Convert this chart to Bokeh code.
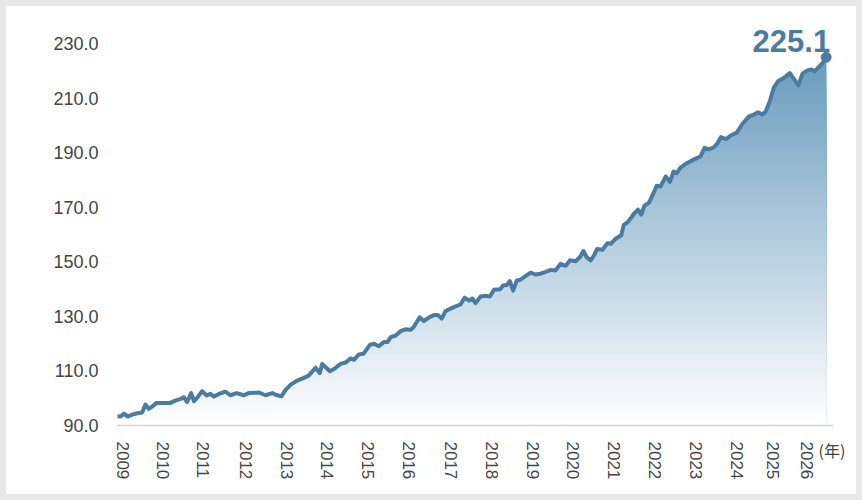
import numpy as np
from bokeh.plotting import figure
from bokeh.models import Range1d, FixedTicker, Label, PrintfTickFormatter, Column
from bokeh.embed import file_html
from bokeh.resources import INLINE

# ---- data (decimal year, index value) ----
YEARS = [
    2008.86, 2008.94, 2009.02, 2009.12, 2009.23, 2009.35, 2009.47, 2009.55, 2009.63, 2009.72,
    2009.82, 2010.16, 2010.29, 2010.41, 2010.49, 2010.57, 2010.67, 2010.74, 2010.83, 2010.94,
    2011.05, 2011.14, 2011.23, 2011.35, 2011.51, 2011.63, 2011.78, 2011.96, 2012.08, 2012.33,
    2012.49, 2012.66, 2012.74, 2012.88, 2012.98, 2013.11, 2013.27, 2013.43, 2013.55, 2013.72,
    2013.82, 2013.88, 2014.07, 2014.18, 2014.33, 2014.45, 2014.58, 2014.66, 2014.78, 2014.89,
    2015.05, 2015.15, 2015.27, 2015.39, 2015.48, 2015.56, 2015.68, 2015.80, 2015.92, 2016.05,
    2016.13, 2016.27, 2016.37, 2016.50, 2016.62, 2016.72, 2016.81, 2016.90, 2017.03, 2017.15,
    2017.27, 2017.37, 2017.48, 2017.56, 2017.64, 2017.76, 2017.89, 2017.99, 2018.09, 2018.24,
    2018.32, 2018.40, 2018.48, 2018.56, 2018.65, 2018.74, 2018.87, 2018.99, 2019.11, 2019.23,
    2019.36, 2019.48, 2019.60, 2019.72, 2019.85, 2019.95, 2020.09, 2020.20, 2020.28, 2020.36,
    2020.46, 2020.54, 2020.62, 2020.75, 2020.87, 2020.95, 2021.07, 2021.21, 2021.27, 2021.36,
    2021.44, 2021.52, 2021.62, 2021.70, 2021.78, 2021.89, 2021.99, 2022.08, 2022.17, 2022.30,
    2022.40, 2022.49, 2022.57, 2022.66, 2022.79, 2022.91, 2023.06, 2023.15, 2023.25, 2023.36,
    2023.48, 2023.56, 2023.65, 2023.78, 2023.89, 2024.04, 2024.18, 2024.34, 2024.46, 2024.56,
    2024.67, 2024.75, 2024.85, 2024.95, 2025.05, 2025.16, 2025.24, 2025.34, 2025.44, 2025.55,
    2025.65, 2025.77, 2025.87, 2025.95, 2026.05, 2026.14, 2026.23,
]
VALUES = [
    93.4, 93.3, 94.3, 93.3, 94.0, 94.5, 94.8, 97.7, 96.1, 97.0,
    98.3, 98.3, 99.2, 99.7, 100.4, 98.6, 101.9, 98.9, 100.4, 102.6,
    101.0, 101.6, 100.6, 101.6, 102.4, 101.1, 101.9, 101.1, 101.9, 102.1,
    101.1, 101.9, 101.3, 100.7, 103.0, 105.0, 106.5, 107.5, 108.3, 111.2,
    109.2, 112.6, 109.9, 110.8, 112.6, 113.1, 114.6, 114.1, 116.1, 116.3,
    119.6, 120.0, 119.1, 120.6, 120.6, 122.4, 123.0, 124.6, 125.3, 125.1,
    126.3, 129.7, 128.3, 129.7, 130.5, 130.5, 129.2, 131.9, 132.9, 133.7,
    134.4, 136.9, 135.8, 136.6, 134.9, 137.3, 137.6, 137.3, 139.8, 140.0,
    141.5, 141.5, 143.0, 139.5, 143.2, 143.5, 144.9, 146.1, 145.4, 145.7,
    146.4, 147.1, 146.9, 149.3, 148.6, 150.6, 150.3, 151.8, 154.0, 151.8,
    150.6, 152.3, 154.8, 154.5, 156.9, 156.7, 158.5, 159.8, 163.6, 164.5,
    166.0, 167.7, 169.2, 167.4, 170.7, 171.8, 175.0, 178.0, 177.7, 181.4,
    179.4, 183.2, 182.6, 184.6, 186.0, 187.0, 188.1, 188.7, 191.9, 191.3,
    192.1, 193.4, 195.8, 195.1, 196.4, 197.5, 200.7, 203.4, 204.1, 204.9,
    204.1, 205.3, 209.0, 214.1, 216.3, 217.2, 218.1, 219.3, 217.2, 214.8,
    219.1, 220.3, 220.6, 220.0, 221.5, 223.0, 225.1,
]
TICK_LABELS = ["2009", "2010", "2011", "2012", "2013", "2014", "2015", "2016", "2017",
               "2018", "2019", "2020", "2021", "2022", "2023", "2024", "2025", "2026"]
TICK_POS = [2009.0, 2009.98, 2010.97, 2012.01, 2013.01, 2014.0, 2015.0, 2016.0, 2017.03,
            2018.05, 2019.04, 2020.03, 2021.03, 2022.04, 2023.04, 2024.04, 2024.93, 2025.75]
Y_TICKS = [90, 110, 130, 150, 170, 190, 210, 230]
UNIT_LABEL = "(年)"

LINE_COLOR = "#4a7ca2"
TEXT_COLOR = "#444444"
TOP_RGB = np.array([0x6a, 0x9c, 0xbd], dtype=float)
WHITE = np.array([255.0, 255.0, 255.0])

x = np.array(YEARS)
y = np.array(VALUES)
base = 90.0

p = figure(width=850, height=488,
           x_range=Range1d(2008.865, 2026.41), y_range=Range1d(base, 238.6),
           output_backend="svg", toolbar_location=None,
           min_border_left=111, min_border_right=23, min_border_top=14, min_border_bottom=69,
           background_fill_color="white", border_fill_color="white", outline_line_color=None,
           styles={"background-color": "white"})
p.grid.visible = False

# gradient fill under the line, built from stacked bands
top_val = 224.0
levels = np.arange(base + 2.0, y.max() + 4.0, 2.0)[::-1]
for b in levels:
    t = np.clip((b - 1.0 - base) / (top_val - base), 0.0, 1.0)
    rgb = WHITE * (1 - t) + TOP_RGB * t
    col = "#%02x%02x%02x" % tuple(int(round(c)) for c in rgb)
    p.varea(x=x, y1=np.full_like(y, base), y2=np.minimum(y, b), fill_color=col, fill_alpha=1.0)

p.line(x, y, line_color=LINE_COLOR, line_width=4, line_join="round", line_cap="round")
p.scatter([x[-1]], [y[-1]], size=10, fill_color=LINE_COLOR, line_color=LINE_COLOR)

p.add_layout(Label(x=x[-1], y=y[-1], text=f"{VALUES[-1]:.1f}", text_align="right",
                   text_baseline="bottom", x_offset=4, y_offset=5,
                   text_font="Liberation Sans", text_font_size="31px",
                   text_font_style="bold", text_color=LINE_COLOR))

# x axis
xa = p.xaxis[0]
xa.ticker = FixedTicker(ticks=TICK_POS)
xa.major_label_overrides = {pos: lab for pos, lab in zip(TICK_POS, TICK_LABELS)}
xa.major_label_orientation = "vertical"
xa.major_tick_line_color = None
xa.minor_tick_line_color = None
xa.major_tick_out = 0
xa.major_label_standoff = 16
xa.axis_line_color = "#d6d6d6"
xa.axis_line_width = 1.5
xa.major_label_text_font = "Liberation Sans"
xa.major_label_text_font_size = "17px"
xa.major_label_text_color = TEXT_COLOR

# y axis
ya = p.yaxis[0]
ya.ticker = FixedTicker(ticks=Y_TICKS)
ya.formatter = PrintfTickFormatter(format="%.1f")
ya.axis_line_color = None
ya.major_tick_line_color = None
ya.minor_tick_line_color = None
ya.major_tick_out = 0
ya.major_label_standoff = 19
ya.major_label_text_font = "Liberation Sans"
ya.major_label_text_font_size = "18px"
ya.major_label_text_color = TEXT_COLOR

# unit label next to the last year; placed in a side panel so it is not clipped
p.add_layout(Label(x=TICK_POS[-1], y=base, text=UNIT_LABEL, x_offset=12, y_offset=-24,
                   text_align="left", text_baseline="middle",
                   text_font="Noto Sans CJK JP", text_font_size="16px",
                   text_color=TEXT_COLOR), "left")

page = Column(children=[p], styles={"background-color": "#e8e8e8", "padding": "6px"})

open("out.html", "w").write(file_html(page, INLINE))
